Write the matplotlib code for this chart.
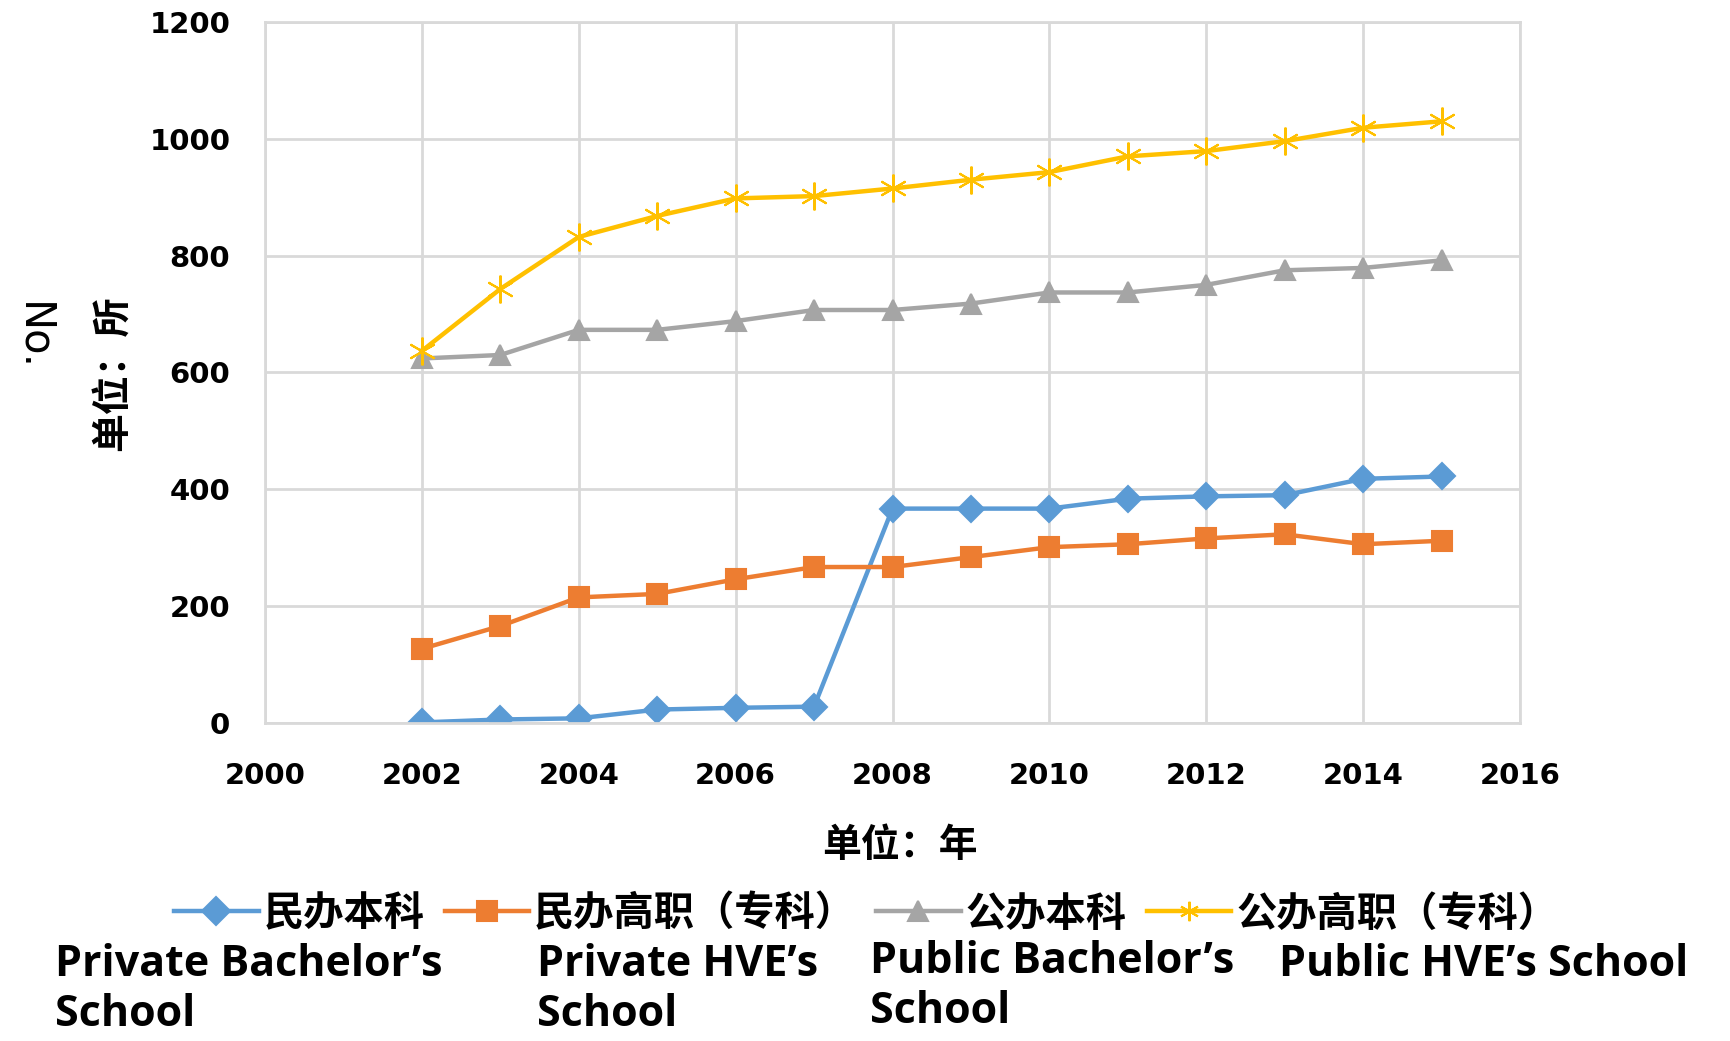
import numpy as np
import matplotlib
matplotlib.use('Agg')
import matplotlib.pyplot as plt
import matplotlib.ticker as ticker

years = [2002, 2003, 2004, 2005, 2006, 2007, 2008, 2009, 2010, 2011, 2012, 2013, 2014, 2015]

private_bachelor = [1, 6, 8, 23, 26, 28, 367, 367, 367, 384, 388, 390, 418, 422]
private_hve = [127, 166, 215, 221, 246, 267, 267, 284, 301, 306, 316, 323, 306, 312]
public_bachelor = [624, 630, 673, 673, 688, 707, 707, 718, 737, 737, 750, 775, 779, 792]
public_hve = [637, 743, 832, 868, 898, 902, 915, 930, 943, 970, 979, 996, 1019, 1030]

labels_cn = ['民办本科', '民办高职（专科）', '公办本科', '公办高职（专科）']
labels_en = ['Private Bachelor\u2019s\nSchool', 'Private HVE\u2019s\nSchool',
             'Public Bachelor\u2019s\nSchool', 'Public HVE\u2019s School']

cjk = ['Noto Sans CJK SC', 'DejaVu Sans']
latin = ['Open Sans', 'DejaVu Sans']

W, H = 1731, 1041
fig = plt.figure(figsize=(W / 100, H / 100), dpi=100)
ax = fig.add_axes([265 / W, 1 - 723 / H, (1520 - 265) / W, (723 - 22) / H])

series = [
    (private_bachelor, '#5B9BD5', 'D', 13),
    (private_hve, '#ED7D31', 's', 14),
    (public_bachelor, '#A5A5A5', '^', 14),
    (public_hve, '#FFC000', (6, 2, 0), 20),
]
lines = []
for (vals, color, marker, ms), lab in zip(series, labels_cn):
    ln, = ax.plot(years, vals, color=color, lw=3.2, marker=marker, markersize=ms,
                  markeredgecolor=color, markerfacecolor=color, markeredgewidth=1.5,
                  label=lab)
    lines.append(ln)

ax.set_xlim(2000, 2016)
ax.set_ylim(0, 1200)
ax.xaxis.set_major_locator(ticker.MultipleLocator(2))
ax.yaxis.set_major_locator(ticker.MultipleLocator(200))
ax.grid(True, color='#D9D9D9', lw=2)
ax.set_axisbelow(True)
for s in ax.spines.values():
    s.set_color('#D9D9D9')
    s.set_linewidth(2)
ax.tick_params(length=0, labelsize=21)
ax.tick_params(axis='y', pad=25)
ax.tick_params(axis='x', pad=28)
for t in ax.get_xticklabels() + ax.get_yticklabels():
    t.set_fontweight('bold')

fig.text(33 / W, 1 - 337 / H, 'No.', rotation=-90, fontsize=30,
         ha='center', va='center')
fig.text(113 / W, 1 - 373 / H, '单位：所', rotation=90, fontsize=28,
         fontweight='bold', family=cjk, ha='center', va='center')
fig.text(900 / W, 1 - 845 / H, '单位：年', fontsize=28,
         fontweight='bold', family=cjk, ha='center', va='center')

leg = fig.legend(handles=lines, loc='center left',
                 bbox_to_anchor=(174 / W, 1 - 914 / H), ncol=4, frameon=False,
                 handlelength=2.1, handletextpad=0.12, columnspacing=0.5,
                 borderpad=0, borderaxespad=0,
                 prop={'family': cjk, 'weight': 'bold', 'size': 29})
for h in leg.legend_handles:
    h.set_markersize(14)

en_x = [55, 537, 870, 1279]
en_y = [943, 943, 940, 943]
for x, y, txt in zip(en_x, en_y, labels_en):
    fig.text(x / W, 1 - y / H, txt, fontsize=31, fontweight='bold',
             family=latin, ha='left', va='top', linespacing=1.2)

fig.savefig('out.png', dpi=100)
